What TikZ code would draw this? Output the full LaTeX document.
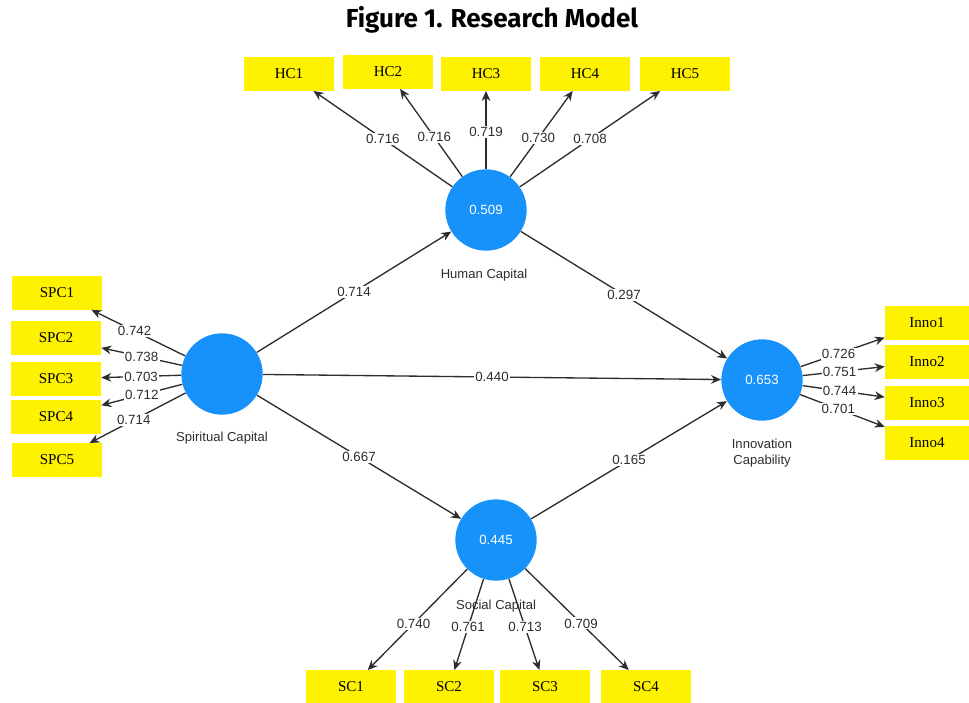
\documentclass[tikz,border=0pt]{standalone}
\usepackage{fontspec}
\setmainfont{Liberation Serif}
\setsansfont{Liberation Sans}
\newfontfamily\titlefont{Fira Sans}
\usetikzlibrary{arrows.meta}
\definecolor{latentblue}{RGB}{22,146,250}
\definecolor{linegray}{RGB}{45,45,45}
\definecolor{textgray}{RGB}{45,45,45}
\begin{document}
\begin{tikzpicture}[x=0.75pt,y=-0.75pt,
		box/.style={fill=yellow, minimum width=67.5pt, minimum height=25pt, inner sep=0pt, font=\fontsize{11.3}{13}\selectfont},
		latent/.style={circle, fill=latentblue, minimum size=61pt, inner sep=0pt, text=white, font=\sffamily\fontsize{10}{12}\selectfont},
		caption/.style={text=textgray, align=center, font=\sffamily\fontsize{9.8}{11.5}\selectfont},
		lbl/.style={fill=white, inner sep=1pt, text=textgray, font=\sffamily\fontsize{10}{12}\selectfont},
		arr/.style={draw=linegray, line width=1pt, -{Stealth[length=7.5pt,width=6.5pt]}}]
		\useasboundingbox (0,0) rectangle (969,702);
		\node at (492,20) [font=\titlefont\bfseries\fontsize{19.5}{22}\selectfont] (title) {Figure 1. Research Model};

		% latent variables
		\node at (222,374) [latent] (spc) {};
		\node at (486,210) [latent] (hcap) {0.509};
		\node at (762,380) [latent] (inno) {0.653};
		\node at (496,540) [latent] (scap) {0.445};
		\node at (222,438) [caption] (spcname) {Spiritual Capital};
		\node at (484,275) [caption] (hcapname) {Human Capital};
		\node at (762,453) [caption] (innoname) {Innovation\\Capability};
		\node at (496,606) [caption] (scapname) {Social Capital};

		% indicators
		\node at (289,74) [box] (hc1) {HC1};
		\node at (388,72) [box] (hc2) {HC2};
		\node at (486,74) [box] (hc3) {HC3};
		\node at (585,74) [box] (hc4) {HC4};
		\node at (685,74) [box] (hc5) {HC5};

		\node at (57,293) [box] (spc1) {SPC1};
		\node at (56,338) [box] (spc2) {SPC2};
		\node at (56,379) [box] (spc3) {SPC3};
		\node at (56,417) [box] (spc4) {SPC4};
		\node at (57,460) [box] (spc5) {SPC5};

		\node at (927,323) [box, minimum width=63pt] (inno1) {Inno1};
		\node at (927,362) [box, minimum width=63pt] (inno2) {Inno2};
		\node at (927,403) [box, minimum width=63pt] (inno3) {Inno3};
		\node at (927,443) [box, minimum width=63pt] (inno4) {Inno4};

		\node at (351,687) [box] (sc1) {SC1};
		\node at (449,687) [box] (sc2) {SC2};
		\node at (545,687) [box] (sc3) {SC3};
		\node at (646,687) [box] (sc4) {SC4};

		% outer loadings
		\draw [arr] (hcap) -- node [lbl] {0.716} (hc1);
		\draw [arr] (hcap) -- node [lbl, pos=0.45] {0.716} (hc2);
		\draw [arr] (hcap) -- node [lbl, pos=0.48] {0.719} (hc3);
		\draw [arr] (hcap) -- node [lbl, pos=0.45] {0.730} (hc4);
		\draw [arr] (hcap) -- node [lbl] {0.708} (hc5);

		\draw [arr] (spc) -- node [lbl, pos=0.54] {0.742} (spc1);
		\draw [arr] (spc) -- node [lbl] {0.738} (spc2);
		\draw [arr] (spc) -- node [lbl] {0.703} (spc3);
		\draw [arr] (spc) -- node [lbl] {0.712} (spc4);
		\draw [arr] (spc) -- node [lbl, pos=0.54] {0.714} (spc5);

		\draw [arr] (inno) -- node [lbl, pos=0.45] {0.726} (inno1);
		\draw [arr] (inno) -- node [lbl, pos=0.45] {0.751} (inno2);
		\draw [arr] (inno) -- node [lbl, pos=0.45] {0.744} (inno3);
		\draw [arr] (inno) -- node [lbl, pos=0.45] {0.701} (inno4);

		\draw [arr] (scap) -- node [lbl, pos=0.54] {0.740} (sc1);
		\draw [arr] (scap) -- node [lbl, pos=0.53] {0.761} (sc2);
		\draw [arr] (scap) -- node [lbl, pos=0.53] {0.713} (sc3);
		\draw [arr] (scap) -- node [lbl, pos=0.54] {0.709} (sc4);

		% path coefficients
		\draw [arr] (spc) -- node [lbl] {0.714} (hcap);
		\draw [arr] (hcap) -- node [lbl] {0.297} (inno);
		\draw [arr] (spc) -- node [lbl] {0.440} (inno);
		\draw [arr] (spc) -- node [lbl] {0.667} (scap);
		\draw [arr] (scap) -- node [lbl] {0.165} (inno);

	\end{tikzpicture}
\end{document}
